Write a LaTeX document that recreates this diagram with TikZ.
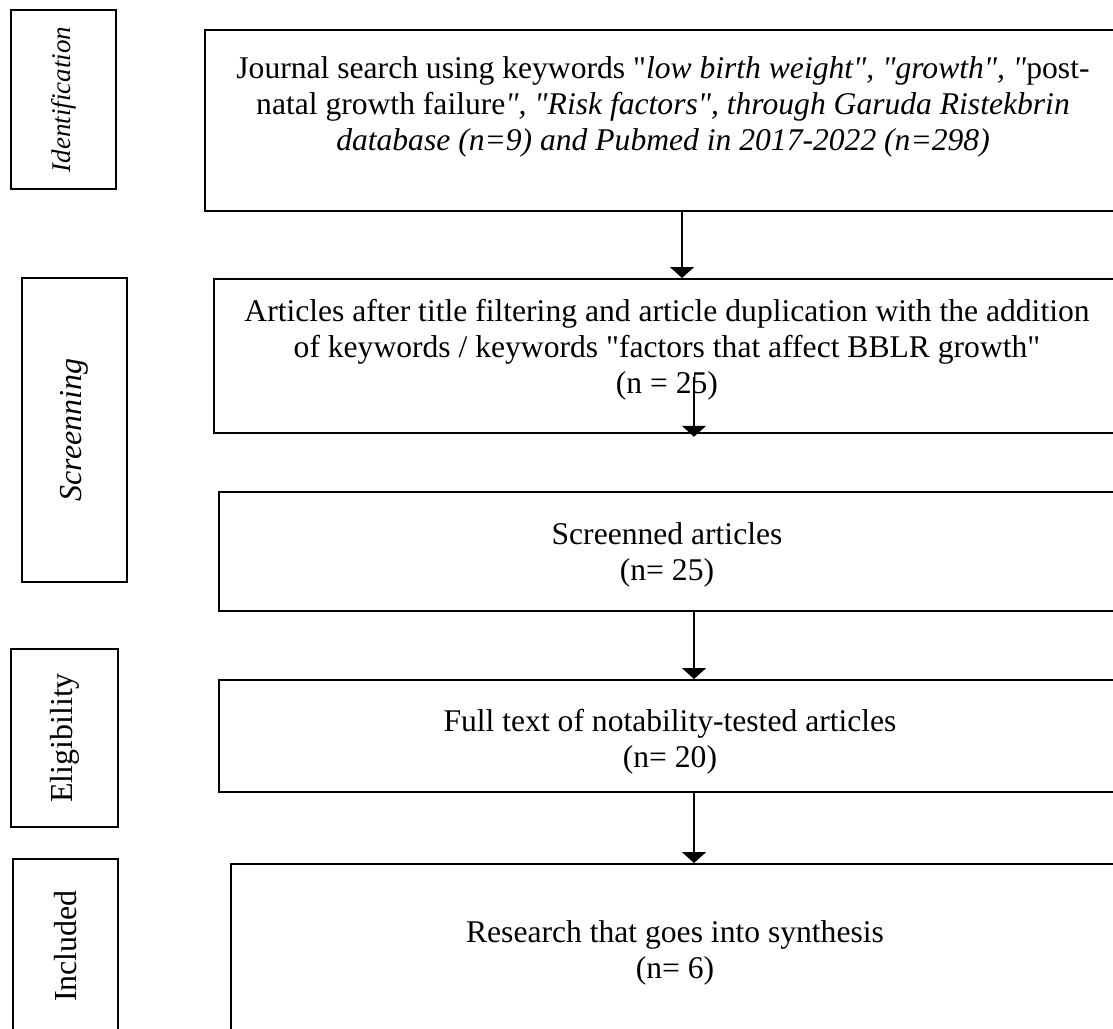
\documentclass[tikz,border=0pt]{standalone}
\usepackage{fontspec}
\setmainfont{Liberation Serif}[Ligatures=TeXOff]
\usetikzlibrary{arrows.meta}
\begin{document}
\begin{tikzpicture}[x=1pt,y=-1pt,
  boxst/.style={draw, line width=1.8pt, inner sep=0pt, anchor=north west},
  sidest/.style={draw, line width=1.8pt, inner sep=0pt, rotate=90, font=\fontsize{32}{36}\selectfont},
  txt/.style={inner sep=0pt, align=center, font=\fontsize{31.6}{36}\selectfont},
  arr/.style={line width=1.8pt, -{Triangle[width=24pt,length=11pt]}}]
\clip (0,0) rectangle (1113,1028);
% side boxes
\node[sidest, minimum width=179pt, minimum height=105pt, font=\fontsize{27}{30}\selectfont] (id) at (63.5,99.5) {\textit{Identification}};
\node[sidest, minimum width=304pt, minimum height=105pt] (sc) at (74.5,430) {\textit{Screenning}};
\node[sidest, minimum width=178pt, minimum height=107pt] (el) at (64.5,738) {Eligibility};
\node[sidest, minimum width=174pt, minimum height=105pt] (in) at (65.5,946) {Included};
% main boxes
\node[boxst, minimum width=921pt, minimum height=181pt] (b1) at (204,29) {};
\node[boxst, minimum width=912pt, minimum height=154pt] (b2) at (213,278) {};
\node[boxst, minimum width=907pt, minimum height=119pt] (b3) at (218,491) {};
\node[boxst, minimum width=907pt, minimum height=112pt] (b4) at (218,679) {};
\node[boxst, minimum width=895pt, minimum height=177pt] (b5) at (230,863) {};
% texts
\node[txt] (t1) at (663,107) {Journal search using keywords "\textit{low birth weight", "growth", "}post-\\
natal growth failure\textit{", "Risk factors", through Garuda Ristekbrin}\\
\textit{database (n=9) and Pubmed in 2017-2022 (n=298)}};
\node[txt] (t2) at (667,350) {Articles after title filtering and article duplication with the addition\\
of keywords / keywords "factors that affect BBLR growth"\\
(n = 25)};
\node[txt] (t3) at (667,555) {Screenned articles\\(n= 25)};
\node[txt] (t4) at (670,742) {Full text of notability-tested articles\\(n= 20)};
\node[txt] (t5) at (675,953) {Research that goes into synthesis\\(n= 6)};
% arrows
\coordinate (c1) at (682,0);
\coordinate (c2) at (694,0);
\coordinate (s2) at (694,377);
\draw[arr] (c1 |- b1.south) -- (c1 |- b2.north);
\draw[arr] (s2) -- ([yshift=-3pt]c2 |- b2.south);
\draw[arr] (c2 |- b3.south) -- (c2 |- b4.north);
\draw[arr] (c2 |- b4.south) -- (c2 |- b5.north);
\end{tikzpicture}
\end{document}
